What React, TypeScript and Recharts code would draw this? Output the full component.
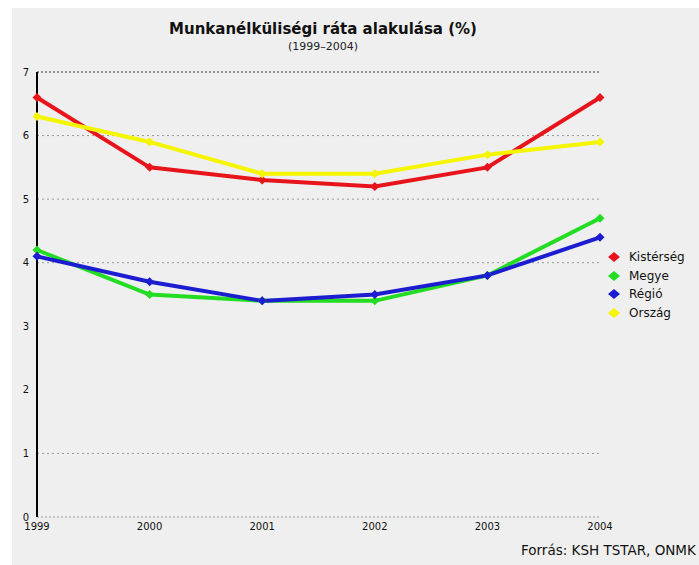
import React from "react";
import { LineChart, Line, XAxis, YAxis, ReferenceLine } from "recharts";

const years = ["1999", "2000", "2001", "2002", "2003", "2004"];
const kisterseg = [6.6, 5.5, 5.3, 5.2, 5.5, 6.6];
const megye = [4.2, 3.5, 3.4, 3.4, 3.8, 4.7];
const regio = [4.1, 3.7, 3.4, 3.5, 3.8, 4.4];
const orszag = [6.3, 5.9, 5.4, 5.4, 5.7, 5.9];
const yTicks = [0, 1, 2, 3, 4, 5, 6, 7];
const gridValues = [1, 4, 5, 6];

const SERIES = [
  { key: "kisterseg", name: "Kistérség", color: "#e8141c", values: kisterseg },
  { key: "megye", name: "Megye", color: "#22dd22", values: megye },
  { key: "regio", name: "Régió", color: "#1c1cd0", values: regio },
  { key: "orszag", name: "Ország", color: "#f5f500", values: orszag },
];

const data = years.map((year, i) => {
  const row: Record<string, string | number> = { year };
  SERIES.forEach((s) => (row[s.key] = s.values[i]));
  return row;
});

const font = "'DejaVu Sans', sans-serif";

const Diamond = (color: string) => (props: any) => {
  const { cx, cy, index } = props;
  if (cx == null || cy == null) return <g key={index} />;
  const r = 4.5;
  return (
    <polygon
      key={index}
      points={`${cx},${cy - r} ${cx + r},${cy} ${cx},${cy + r} ${cx - r},${cy}`}
      fill={color}
    />
  );
};

export default function App() {
  return (
    <div
      style={{
        position: "fixed",
        left: 12,
        top: 8,
        width: 687,
        height: 557,
        background: "#efefef",
        fontFamily: font,
        overflow: "hidden",
      }}
    >
      <div style={{ position: "absolute", left: 0, width: 622, top: 12, textAlign: "center", fontSize: 15, fontWeight: "bold", color: "#111" }}>
        Munkanélküliségi ráta alakulása (%)
      </div>
      <div style={{ position: "absolute", left: 0, width: 622, top: 32, textAlign: "center", fontSize: 11, color: "#222" }}>
        (1999–2004)
      </div>
      <LineChart
        width={687}
        height={557}
        data={data}
        margin={{ top: 64, right: 99, left: 0, bottom: 18 }}
        style={{ position: "absolute", left: 0, top: 0 }}
      >
        {gridValues.map((v) => (
          <ReferenceLine key={v} y={v} stroke="#999" strokeDasharray="2 3" />
        ))}
        <ReferenceLine y={7} stroke="#333" strokeDasharray="2 2" />
        <ReferenceLine y={0} stroke="#999" strokeDasharray="2 2" />
        <XAxis
          dataKey="year"
          axisLine={false}
          tickLine={false}
          tickSize={0}
          tickMargin={6}
          height={30}
          tick={{ fontSize: 10, fill: "#111", fontFamily: font }}
        />
        <YAxis
          domain={[0, 7]}
          ticks={yTicks}
          width={25}
          tickLine={false}
          axisLine={{ stroke: "#000", strokeWidth: 2 }}
          tick={{ fontSize: 10, fill: "#111", fontFamily: font }}
        />
        {SERIES.map((s) => (
          <Line
            key={s.key}
            dataKey={s.key}
            name={s.name}
            stroke={s.color}
            strokeWidth={4}
            dot={Diamond(s.color)}
            activeDot={false}
            isAnimationActive={false}
          />
        ))}
      </LineChart>
      <div style={{ position: "absolute", left: 595, top: 240, fontSize: 12, color: "#111" }}>
        {SERIES.map((s) => (
          <div key={s.key} style={{ display: "flex", alignItems: "center", height: 18.5 }}>
            <svg width={14} height={12} style={{ marginRight: 8 }}>
              <polygon points="7,1 13,6 7,11 1,6" fill={s.color} />
            </svg>
            {s.name}
          </div>
        ))}
      </div>
      <div style={{ position: "absolute", left: 509, top: 534, fontSize: 13.5, color: "#111", whiteSpace: "nowrap" }}>
        Forrás: KSH TSTAR, ONMK
      </div>
    </div>
  );
}
